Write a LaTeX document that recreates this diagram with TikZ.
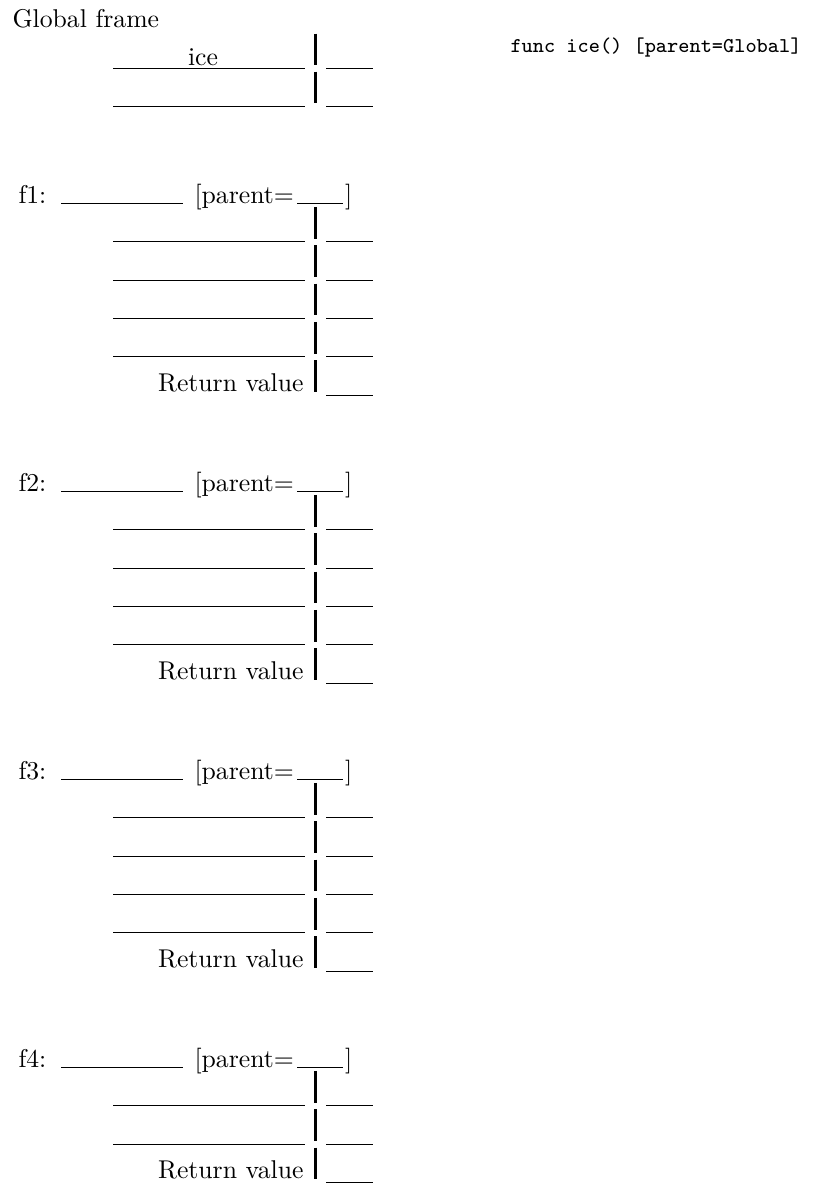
\documentclass[tikz,border=0pt]{standalone}
\usepackage{tikz}
\tikzset{
    blank/.style={line width=0.4pt},
    divider/.style={line width=1pt},
    txt/.style={inner sep=0pt, anchor=base west}
}

\begin{document}
\begin{tikzpicture}[x=0.3891pt, y=-0.3891pt]
        \useasboundingbox (0, 0) rectangle (814, 1190);
        % global frame
        \node[txt] (glob) at (12, 27) {Global frame};
        \node[txt, font=\ttfamily\fontsize{8.2}{10}\selectfont] (func) at (510, 52) {func ice() [parent=Global]};
        \node[inner sep=0pt, anchor=base] (ice) at (203, 65) {ice};
        \foreach \y in {68.5, 106.5} {
            \draw[blank] (113, \y) -- (305, \y);
            \draw[blank] (326, \y) -- (373, \y);
            \draw[divider] (315.5, \y-35) -- (315.5, \y-3.3);
        }
        % local frames: name / header line / rows
        \foreach \f/\h/\n in {f1/203.5/4, f2/491.5/4, f3/779.5/4, f4/1067.5/2} {
            \node[txt] (\f) at (18, \h) {\f:};
            \draw[blank] (61, \h) -- (183, \h);
            \node[txt] (\f-par) at (194, \h) {[parent=};
            \draw[blank] (297, \h) -- (343, \h);
            \node[txt] (\f-end) at (344.5, \h) {]};
            \foreach \k in {1, ..., \n} {
                \draw[blank] (113, \h+38.35*\k) -- (305, \h+38.35*\k);
            }
            \pgfmathsetmacro{\m}{\n+1}
            \foreach \k in {1, ..., \m} {
                \draw[blank] (326, \h+38.35*\k) -- (373, \h+38.35*\k);
                \draw[divider] (315.5, \h+38.35*\k-35) -- (315.5, \h+38.35*\k-3.3);
            }
            \node[inner sep=0pt, anchor=base east] (\f-ret) at (304, \h+38.35*\m-4) {Return value};
        }
    \end{tikzpicture}
\end{document}
